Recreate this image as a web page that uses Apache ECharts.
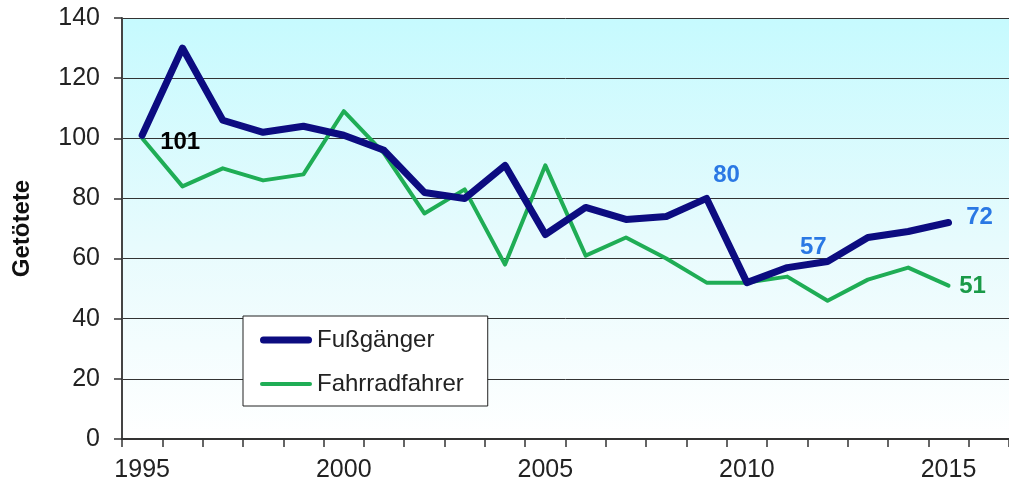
<!DOCTYPE html>
<html><head><meta charset="utf-8">
<script src="https://cdn.jsdelivr.net/npm/echarts@6/dist/echarts.min.js"></script>
<style>html,body{margin:0;padding:0;background:#fff}#c{width:1009px;height:486px}</style>
</head><body><div id="c"></div>
<script>
const years = ['1995','1996','1997','1998','1999','2000','2001','2002','2003','2004','2005','2006','2007','2008','2009','2010','2011','2012','2013','2014','2015'];
const fussgaenger = [101,130,106,102,104,101,96,82,80,91,68,77,73,74,80,52,57,59,67,69,72];
const fahrrad = [100,84,90,86,88,109,95,75,83,58,91,61,67,60,52,52,54,46,53,57,51];
const yTicks = [0,20,40,60,80,100,120,140];
const labeledFuss = ['1995','2009','2011','2015'];
const labeledRad = ['2015'];

const axisCats = years.concat(['']);
const F = 'Liberation Sans, Arial, sans-serif';
const labelStyle = {
  '1995': {offset:[38,7], color:'#000000'},
  '2009': {offset:[20,-23], color:'#2a78e4'},
  '2011': {offset:[26,-20], color:'#2a78e4'},
  '2015': {offset:[31,-5], color:'#2a78e4'}
};
const lblData = [];
labeledFuss.forEach(y => {
  const i = years.indexOf(y);
  const s = labelStyle[y];
  lblData.push({value:[y, fussgaenger[i]], label:{show:true, position:'inside', offset:s.offset, color:s.color, formatter:String(fussgaenger[i])}});
});
labeledRad.forEach(y => {
  const i = years.indexOf(y);
  lblData.push({value:[y, fahrrad[i]], label:{show:true, position:'inside', offset:[24,1], color:'#1a9a48', formatter:String(fahrrad[i])}});
});

const iconThick = 'path://M3.5,0 L48.5,0 A3.5,3.5 0 0 1 48.5,7 L3.5,7 A3.5,3.5 0 0 1 3.5,0 Z';
const iconThin = 'path://M2,0 L50,0 A2,2 0 0 1 50,4 L2,4 A2,2 0 0 1 2,0 Z';

const chart = echarts.init(document.getElementById('c'));
chart.setOption({
  animation:false,
  grid:{left:122, top:18, height:421, width:893.2, show:true, borderWidth:0,
    backgroundColor:{type:'linear', x:0, y:0, x2:0, y2:1, colorStops:[{offset:0,color:'#c6fafe'},{offset:0.55,color:'#e8fbfd'},{offset:1,color:'#ffffff'}]}},
  xAxis:{type:'category', data:axisCats, boundaryGap:true,
    axisLine:{lineStyle:{color:'#333', width:2}},
    axisTick:{show:true, interval:0, length:8, lineStyle:{color:'#333', width:1.5}},
    axisLabel:{interval:4, fontSize:25, fontFamily:F, color:'#222', margin:19},
    splitLine:{show:false}},
  yAxis:{type:'value', min:yTicks[0], max:yTicks[yTicks.length-1], interval:20,
    name:'Getötete', nameLocation:'middle', nameGap:88, nameRotate:90,
    nameTextStyle:{fontSize:24, fontWeight:'bold', fontFamily:F, color:'#111'},
    axisLine:{show:true, lineStyle:{color:'#444', width:2}},
    axisTick:{show:true, length:8, lineStyle:{color:'#333', width:1.5}},
    axisLabel:{fontSize:25, fontFamily:F, color:'#222', margin:22},
    splitLine:{show:true, lineStyle:{color:'#333', width:1}}},
  legend:{data:[{name:'Fußgänger', icon:iconThick},{name:'Fahrradfahrer', icon:iconThin}],
    orient:'vertical', left:243, top:316,
    backgroundColor:'#ffffff', borderColor:'#222', borderWidth:1,
    padding:[12,24,10,17], itemWidth:52, itemHeight:14, itemGap:20,
    textStyle:{fontSize:24, fontFamily:F, color:'#222', lineHeight:24}},
  series:[
    {name:'Fußgänger', type:'line', data:fussgaenger, symbol:'none', z:3,
      lineStyle:{color:'#0c0c80', width:7, cap:'round', join:'round'}, itemStyle:{color:'#0c0c80'}},
    {name:'Fahrradfahrer', type:'line', data:fahrrad, symbol:'none', z:2,
      lineStyle:{color:'#1fad55', width:4, cap:'round', join:'round'}, itemStyle:{color:'#1fad55'}},
    {name:'_labels', type:'scatter', data:lblData, symbolSize:1, z:5,
      itemStyle:{color:'rgba(0,0,0,0)', opacity:1},
      label:{fontSize:24, fontWeight:'bold', fontFamily:F}, silent:true}
  ]
});
</script></body></html>
